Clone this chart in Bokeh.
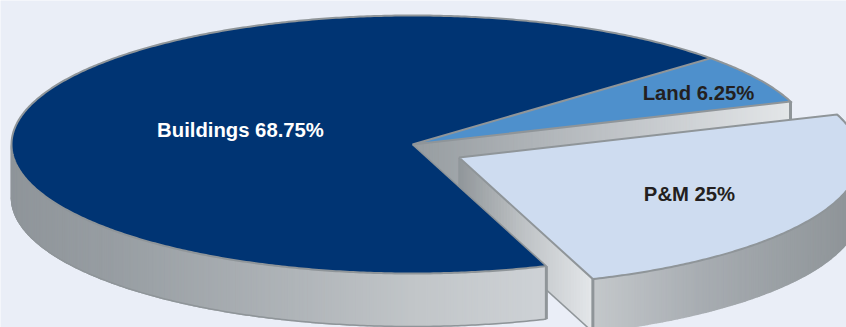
import numpy as np
from bokeh.core.properties import value
from bokeh.embed import file_html
from bokeh.models import Range1d
from bokeh.plotting import figure
from bokeh.resources import INLINE

# Share of assets, in percent
categories = ["Buildings", "Land", "P&M"]
shares = [68.75, 6.25, 25]
labels = ["Buildings 68.75%", "Land 6.25%", "P&M 25%"]

# Pie geometry in page pixels
CX, CY = 412.0, 144.0
RX, RY = 401.0, 129.0
DEPTH = 53.0
EXPLODE = (46.5, 13.0)
START_DEG = -70.5

TOP_COLORS = {"Buildings": "#003473", "Land": "#4e90cc", "P&M": "#cedcf0"}
EDGE = "#8f9599"
BACKGROUND = "#eaeef7"
WIDTH, HEIGHT = 846, 327


def shade(x, xs, colors):
    """Interpolate a horizontal metallic ramp at position x."""
    rgb = np.array([[int(c[i:i + 2], 16) for i in (1, 3, 5)] for c in colors], float)
    vals = [int(round(np.interp(x, xs, rgb[:, k]))) for k in range(3)]
    return "#%02x%02x%02x" % tuple(vals)


def arc(t0, t1, cx, cy, step=0.5):
    n = max(2, int(abs(t1 - t0) / step) + 1)
    t = np.radians(np.linspace(t0, t1, n))
    return cx + RX * np.cos(t), cy - RY * np.sin(t)


def point(t, cx, cy):
    r = np.radians(t)
    return cx + RX * np.cos(r), cy - RY * np.sin(r)


def straight(x0, y0, x1, y1, step=3.0):
    n = max(2, int(abs(x1 - x0) / step) + 1)
    return np.linspace(x0, x1, n), np.linspace(y0, y1, n)


# Slice angles, walking counter-clockwise from the start of the exploded slice
pm_start = START_DEG
pm_end = pm_start + shares[2] * 3.6
land_end = pm_end + shares[1] * 3.6
bld_end = land_end + shares[0] * 3.6
ex_x, ex_y = CX + EXPLODE[0], CY + EXPLODE[1]

p = figure(width=WIDTH, height=HEIGHT, output_backend="svg", toolbar_location=None,
           x_range=Range1d(0, WIDTH), y_range=Range1d(HEIGHT, 0),
           x_axis_location=None, y_axis_location=None, tools="",
           background_fill_color=BACKGROUND, border_fill_color=BACKGROUND,
           outline_line_color=None, min_border=0)
p.grid.visible = False


def draw_wall(px, py, xs, colors):
    """Draw a vertical wall along a polyline as shaded slices."""
    wx, wy, wc = [], [], []
    for i in range(len(px) - 1):
        wx.append([px[i], px[i + 1], px[i + 1], px[i]])
        wy.append([py[i], py[i + 1], py[i + 1] + DEPTH, py[i] + DEPTH])
        wc.append(shade((px[i] + px[i + 1]) / 2, xs, colors))
    p.patches(wx, wy, fill_color=wc, line_color=wc, line_width=1.5)


def outline(xs, ys, width=2.0):
    p.line(list(xs), list(ys), line_color=EDGE, line_width=width, line_join="miter")


# Cut face under the Land slice
lx, ly = point(pm_end, CX, CY)
fx, fy = straight(CX, CY, lx, ly)
draw_wall(fx, fy, [411, 600, 790], ["#969ca0", "#bcc0c4", "#e3e6e8"])
outline([lx, lx], [ly, ly + DEPTH], 3)

# Cut face on the left of the exploded slice
ax, ay = point(pm_start, ex_x, ex_y)
fx, fy = straight(ex_x, ex_y, ax, ay)
draw_wall(fx, fy, [457, 520, 593], ["#8f9599", "#bcc0c3", "#e4e7ea"])
outline([ex_x, ax], [ex_y + DEPTH, ay + DEPTH], 1.5)

# Rim of the large slice
bx, by = arc(180, bld_end, CX, CY)
draw_wall(bx, by, [12, 120, 300, 420, 548],
          ["#8f959a", "#989ea3", "#b0b5b9", "#c2c6c9", "#ced2d6"])
outline(bx, by + DEPTH, 1.5)
outline([bx[-1], bx[-1]], [by[-1], by[-1] + DEPTH], 3)

# Top faces of Buildings and Land
tx, ty = arc(land_end, bld_end, CX, CY)
p.patch(np.r_[CX, tx], np.r_[CY, ty], fill_color=TOP_COLORS["Buildings"], line_color=None)
outline(tx, ty, 2.0)
ux, uy = arc(pm_end, land_end, CX, CY)
p.patch(np.r_[CX, ux], np.r_[CY, uy], fill_color=TOP_COLORS["Land"], line_color=None)
outline(np.r_[CX, ux, CX], np.r_[CY, uy, CY], 2.0)
outline([CX, bx[-1]], [CY, by[-1]], 1.5)

# Exploded slice: rim first, then its top face
rx_, ry_ = arc(pm_start, pm_end, ex_x, ex_y)
draw_wall(rx_, ry_, [593, 700, 846], ["#c4c8cb", "#a8adb2", "#8f9599"])
outline([rx_[0], rx_[0]], [ry_[0], ry_[0] + DEPTH], 3)
p.patch(np.r_[ex_x, rx_], np.r_[ex_y, ry_], fill_color=TOP_COLORS["P&M"], line_color=None)
outline(np.r_[ex_x, rx_, ex_x], np.r_[ex_y, ry_, ex_y], 2.0)

# Slice captions
label_x = [240, 698, 689]
label_y = [129, 92, 193]
label_colors = ["#ffffff", "#231f20", "#231f20"]
p.text(label_x, label_y, text=labels, text_color=label_colors,
       text_font=value("Liberation Sans"), text_font_style="bold", text_font_size="20.3px",
       text_align="center", text_baseline="middle")

open("out.html", "w").write(file_html(p, INLINE))
